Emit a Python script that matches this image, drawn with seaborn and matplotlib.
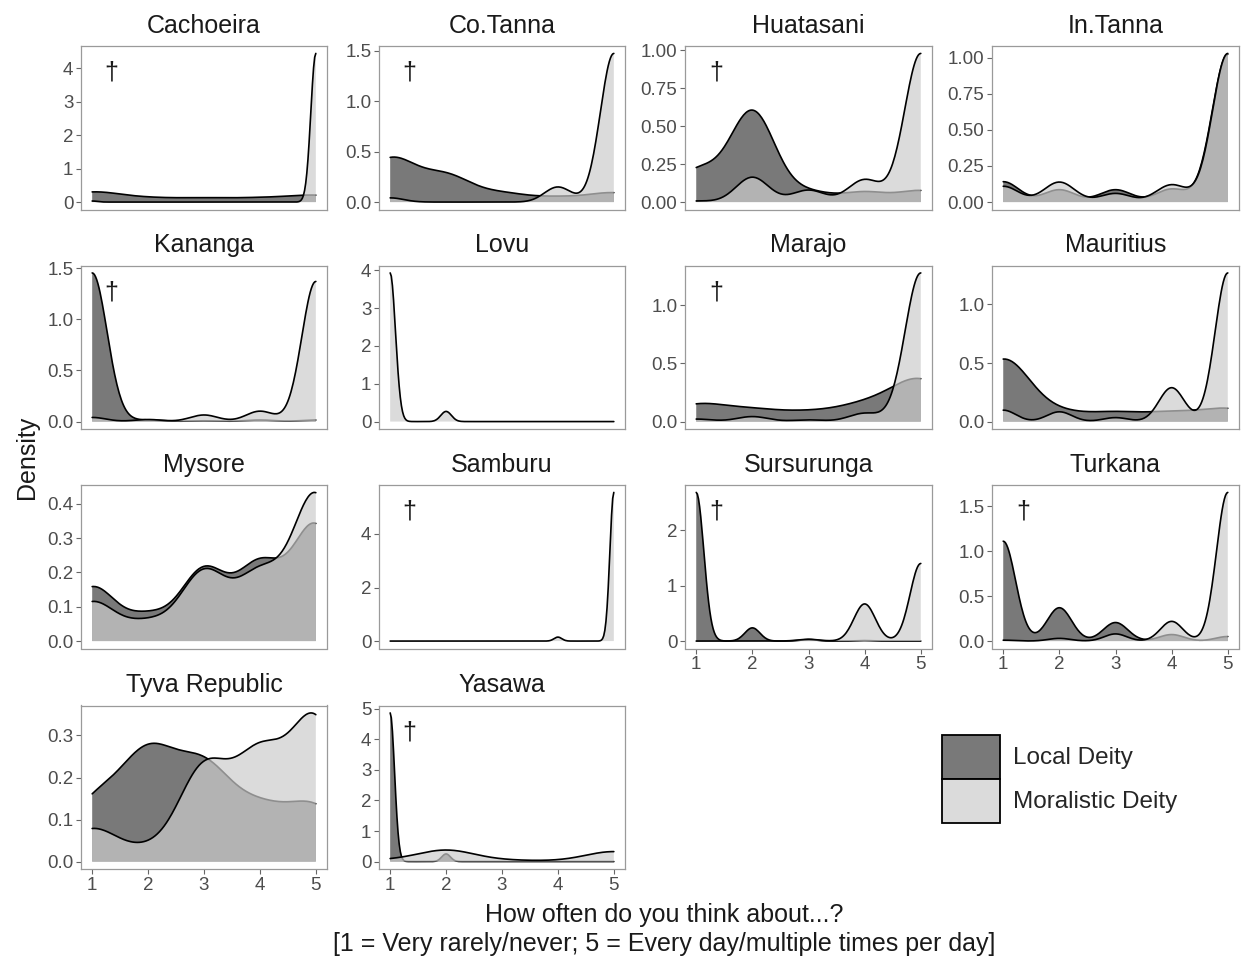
import numpy as np
import matplotlib
matplotlib.use("Agg")
import matplotlib.pyplot as plt
import seaborn as sns
from matplotlib.patches import Patch
from matplotlib.ticker import MultipleLocator, FormatStrFormatter

# ---------------- data ----------------
sites = ["Cachoeira", "Co.Tanna", "Huatasani", "In.Tanna",
         "Kananga", "Lovu", "Marajo", "Mauritius",
         "Mysore", "Samburu", "Sursurunga", "Turkana",
         "Tyva Republic", "Yasawa"]

responses = [1, 2, 3, 4, 5]

# share of answers (%) for responses 1..5, Local Deity (None = no data)
local_share = [
    [36, 13, 13, 13, 24],
    [47, 28, 9, 5, 10],
    [20.2, 59.6, 6.4, 6.4, 7.4],
    [9.9, 6.0, 6.0, 6.3, 71.8],
    [96.5, 1, 0.5, 1, 1],
    None,
    [17.5, 11, 8.5, 16, 44],
    [62, 8.5, 8.5, 8.5, 12.5],
    [14.5, 6.5, 19, 20, 31],
    None,
    [90, 8, 1, 0.3, 0],
    [61.4, 20.5, 11.4, 4, 2.8],
    [15.8, 28.6, 24.8, 13.2, 15],
    [95.1, 4.9, 0, 0, 0],
]

# share of answers (%) for responses 1..5, Moralistic Deity
moral_share = [
    [0.7, 0, 0, 0, 99.3],
    [2.5, 0, 0, 9, 88.5],
    [0.5, 11.9, 5.7, 10.7, 71.1],
    [7.5, 9.5, 4.1, 8.2, 70.6],
    [2.5, 1.25, 4, 6.3, 85],
    [93.6, 6.4, 0, 0, 0],
    [1.5, 3, 1, 5, 89.5],
    [5.5, 4.7, 1.9, 16.3, 71.5],
    [10.8, 5, 19, 18, 40.5],
    [0, 0, 0, 2.6, 97.4],
    [0, 0, 1.5, 31.7, 66.2],
    [0.5, 1.5, 4, 11, 83],
    [8.5, 2.9, 24.1, 26.4, 36.6],
    [6, 44, 5, 2, 39],
]

# kernel bandwidths (smoothing) of each density
local_bw = [0.50, 0.45, 0.40, 0.28, 0.265, None, 0.52, 0.47, 0.41, None, 0.135, 0.22, 0.50, 0.078]
moral_bw = [0.089, 0.24, 0.29, 0.274, 0.25, 0.095, 0.28, 0.225, 0.41, 0.07, 0.19, 0.20, 0.45, 0.50]

y_tick_step = [1, 0.5, 0.25, 0.25, 0.5, 1, 0.5, 0.5, 0.1, 2, 1, 0.5, 0.1, 1]

dagger_sites = ["Cachoeira", "Co.Tanna", "Huatasani", "Kananga", "Marajo",
                "Samburu", "Sursurunga", "Turkana", "Yasawa"]

legend_labels = ["Local Deity", "Moralistic Deity"]
x_title = ("How often do you think about...?\n"
           "[1 = Very rarely/never; 5 = Every day/multiple times per day]")
y_title = "Density"

# ---------------- style ----------------
sns.set_style("white")
plt.rcParams["font.family"] = ["Liberation Sans", "DejaVu Sans"]

W, H = 1241, 957
fig = plt.figure(figsize=(W / 100, H / 100), dpi=100)

col_left = [81, 379, 685, 992]
col_width = [246, 246, 247, 247]
row_top = [46, 265.5, 485, 705.5]
row_height = 163.5

LOCAL_FILL = (0.25, 0.25, 0.25)
MORAL_FILL = (0.80, 0.80, 0.80)
FILL_ALPHA = 0.7
TEXT_DARK = "#1a1a1a"
TICK_TEXT = "#4d4d4d"
BORDER = "#9a9a9a"


def kde_layer(ax, share, bw, fill_color, z):
    vals = np.array(responses, float)
    w = np.array(share, float)
    keep = w > 0
    vals, w = vals[keep], w[keep]
    wn = w / w.sum()
    mean = np.sum(wn * vals)
    var = np.sum(wn * (vals - mean) ** 2) / (1 - np.sum(wn ** 2))
    factor = bw / np.sqrt(var)
    common = dict(x=vals, weights=w, bw_method=factor, cut=100, clip=(1, 5), ax=ax)
    sns.kdeplot(**common, fill=True, color=fill_color, alpha=FILL_ALPHA,
                edgecolor="none", linewidth=0, zorder=z)
    sns.kdeplot(**common, color="black", linewidth=1.2, zorder=z + 0.1)


n = len(sites)
for i, site in enumerate(sites):
    r, c = divmod(i, 4)
    left = col_left[c] / W
    bottom = 1 - (row_top[r] + row_height) / H
    ax = fig.add_axes([left, bottom, col_width[c] / W, row_height / H])

    if local_share[i] is not None:
        kde_layer(ax, local_share[i], local_bw[i], LOCAL_FILL, 1.0)
    kde_layer(ax, moral_share[i], moral_bw[i], MORAL_FILL, 1.5)

    ymax = max(np.nanmax(l.get_ydata()) for l in ax.lines)
    ax.set_xlim(0.8, 5.2)
    ax.set_ylim(-0.05 * ymax, 1.05 * ymax)

    step = y_tick_step[i]
    ax.yaxis.set_major_locator(MultipleLocator(step))
    if step >= 1:
        dec = 0
    elif abs(step * 10 - round(step * 10)) < 1e-9:
        dec = 1
    else:
        dec = 2
    ax.yaxis.set_major_formatter(FormatStrFormatter(f"%.{dec}f"))
    ax.set_xticks(responses)
    ax.set_xlabel("")
    ax.set_ylabel("")

    show_x = i + 4 >= n
    ax.tick_params(axis="both", direction="out", length=3.5, width=0.8,
                   color="#666666", labelsize=13.5, labelcolor=TICK_TEXT, pad=2)
    ax.tick_params(axis="y", left=True)
    ax.tick_params(axis="x", bottom=show_x, labelbottom=show_x)

    for sp in ax.spines.values():
        sp.set_visible(True)
        sp.set_color(BORDER)
        sp.set_linewidth(0.9)
        sp.set_zorder(3)

    ax.annotate(site, xy=(0.5, 1), xycoords="axes fraction",
                xytext=(0, 14.5), textcoords="offset points",
                ha="center", va="center", fontsize=18, color=TEXT_DARK)

    if site in dagger_sites:
        ax.text(1.35, 0.87 * ymax, "\u2020", ha="center", va="center",
                fontsize=18, color=TEXT_DARK, zorder=4)

# axis titles
fig.text(27 / W, 1 - 457 / H, y_title, rotation=90, ha="center", va="center",
         fontsize=18, color=TEXT_DARK)
fig.text(664 / W, 1 - 929.5 / H, x_title, ha="center", va="center",
         multialignment="center", fontsize=18, color=TEXT_DARK, linespacing=1.3)

# legend
handles = [Patch(facecolor=LOCAL_FILL + (FILL_ALPHA,), edgecolor="black", linewidth=1.3),
           Patch(facecolor=MORAL_FILL + (FILL_ALPHA,), edgecolor="black", linewidth=1.3)]
fs = 17.5
fs_px = fs * 100 / 72
key_h = 44 / fs_px
hh = (key_h - 0.245) / 0.65
fig.legend(handles=handles, labels=legend_labels, loc="upper left",
           bbox_to_anchor=(942 / W, 1 - 735 / H), frameon=False, fontsize=fs,
           handlelength=58 / fs_px, handleheight=hh, labelspacing=0,
           handletextpad=13 / fs_px, borderpad=0, borderaxespad=0)

fig.savefig("out.png", dpi=100)
